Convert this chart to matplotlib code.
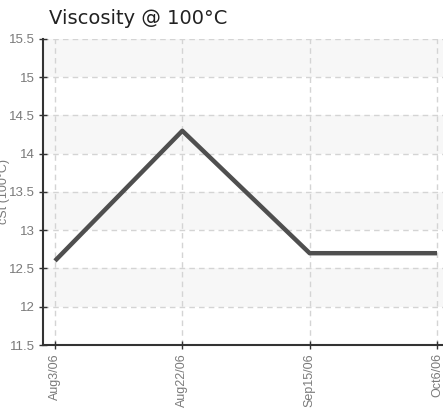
import matplotlib
matplotlib.use("Agg")
import matplotlib.pyplot as plt

# chart data
dates = ["Aug3/06", "Aug22/06", "Sep15/06", "Oct6/06"]
viscosity = [12.6, 14.3, 12.7, 12.7]
y_ticks = [11.5, 12, 12.5, 13, 13.5, 14, 14.5, 15, 15.5]
y_tick_labels = ["11.5", "12", "12.5", "13", "13.5", "14", "14.5", "15", "15.5"]

label_font = ["Liberation Sans", "DejaVu Sans"]
label_grey = "#7a7a7a"

fig = plt.figure(figsize=(4.43, 4.11), dpi=100)
ax = fig.add_axes([43 / 443, 66 / 411, 1 - 43 / 443, 306 / 411])

x = list(range(len(dates)))

# alternating background bands
for lo in [15.0, 14.0, 13.0, 12.0]:
    ax.axhspan(lo, lo + 0.5, color="#f7f7f7", zorder=0, lw=0)

ax.plot(x, viscosity, color="#4f4f4f", lw=3.2, solid_capstyle="butt", zorder=3)

ax.set_xlim(-0.094, 3.047)
ax.set_ylim(11.5, 15.5)
ax.set_xticks(x)
ax.set_xticklabels(dates, rotation=90, family=label_font, fontsize=9, color=label_grey)
ax.set_yticks(y_ticks)
ax.set_yticklabels(y_tick_labels, family=label_font, fontsize=9.5, color=label_grey)

ax.grid(True, color="#d4d4d4", linestyle=(0, (4, 3)), lw=1, zorder=1)
ax.tick_params(direction="inout", length=6, width=1, color="#333333", pad=3)

for side in ["top", "right"]:
    ax.spines[side].set_visible(False)
for side in ["left", "bottom"]:
    ax.spines[side].set_color("#333333")
    ax.spines[side].set_linewidth(1.5)

# y label sits partly off the left edge, as in the original
ax.set_ylabel("cSt (100°C)", family=label_font, fontsize=9, color=label_grey)
ax.yaxis.set_label_coords((10 - 43) / 400, 0.5)

fig.text(49 / 443, 1 - 24 / 411, "Viscosity @ 100°C", fontsize=14, color="#222222",
         va="baseline", ha="left", family="DejaVu Sans")

fig.savefig("out.png", dpi=100)
